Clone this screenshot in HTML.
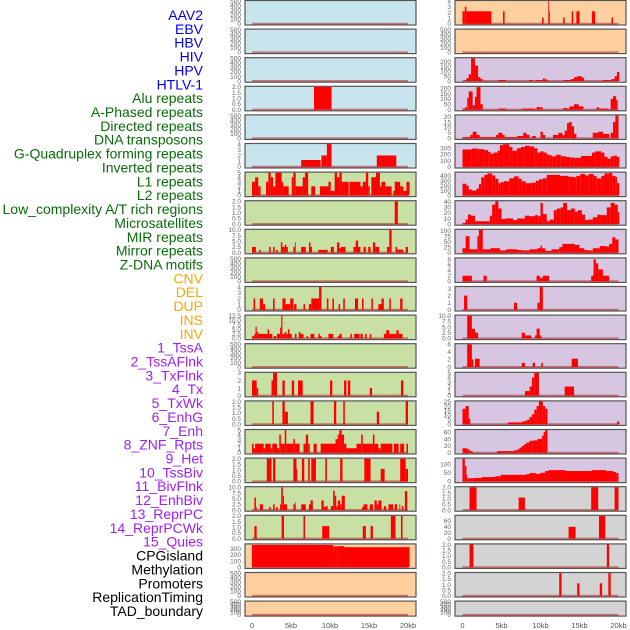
<!DOCTYPE html>
<html><head><meta charset="utf-8">
<style>
html,body{margin:0;padding:0;background:#fff;}
#wrap{position:relative;width:630px;height:630px;overflow:hidden;font-family:"Liberation Sans",sans-serif;}
svg{position:absolute;left:0;top:0;}
</style></head>
<body>
<div id="wrap">
<svg id="chart" width="630" height="630"></svg>
</div>
<script>
const trackLabels = ["AAV2","EBV","HBV","HIV","HPV","HTLV-1","Alu repeats","A-Phased repeats","Directed repeats","DNA transposons","G-Quadruplex forming repeats","Inverted repeats","L1 repeats","L2 repeats","Low_complexity A/T rich regions","Microsatellites","MIR repeats","Mirror repeats","Z-DNA motifs","CNV","DEL","DUP","INS","INV","1_TssA","2_TssAFlnk","3_TxFlnk","4_Tx","5_TxWk","6_EnhG","7_Enh","8_ZNF_Rpts","9_Het","10_TssBiv","11_BivFlnk","12_EnhBiv","13_ReprPC","14_ReprPCWk","15_Quies","CPGisland","Methylation","Promoters","ReplicationTiming","TAD_boundary"];
const labelGroups = [0,0,0,0,0,0,1,1,1,1,1,1,1,1,1,1,1,1,1,2,2,2,2,2,3,3,3,3,3,3,3,3,3,3,3,3,3,3,3,4,4,4,4,4];
const xTickLabels = ["0","5kb","10kb","15kb","20kb"];
const xTickValues = [0,5,10,15,20];
const E = [0,100,200,300,400,500];
const T2 = ["0.0","0.5","1.0","1.5","2.0"];
const leftMax = [500,500,500,2,500,4,5,2,10,500,4,12.5,500,3,2,5,2,10,2,365,500,500];
const leftTicks = [E,E,E,T2,E,[0,1,2,3,4],[0,1,2,3,4,5],T2,["0.0","2.5","5.0","7.5","10.0"],E,[0,1,2,3,4],["0.0","2.5","5.0","7.5","10.0","12.5"],E,[0,1,2,3],T2,[0,1,2,3,4,5],T2,["0.0","2.5","5.0","7.5","10.0"],T2,[0,100,200,300],E,E];
const rightMax = [4,500,237,212,21,367,465,41,104,8.3,3.2,10,6,5,25,66,131,2,77,2,2,500];
const rightTicks = [[0,1,2,3,4],E,[0,50,100,150,200],[0,50,100,150,200],[0,5,10,15,20],[0,100,200,300],[0,100,200,300,400],[0,10,20,30,40],[0,25,50,75,100],[0,2,4,6,8],[0,1,2,3],["0.0","2.5","5.0","7.5","10.0"],[0,2,4,6],[0,1,2,3,4,5],[0,5,10,15,20,25],[0,20,40,60],[0,50,100],T2,[0,20,40,60],T2,T2,E];
const leftSegs = [
[],[],[],
[[7.95,10.2,2]],
[],
[[6.3,8.8,1.2],[8.9,9.6,2],[9.6,10.2,4],[16.0,18.5,2]],
[[0,0.4,3],[0.4,0.8,4],[0.8,1.1,2],[1.8,2.1,3],[2.1,2.4,5],[2.4,2.7,4],[2.7,3.0,2],[3.0,3.8,5],[3.8,4.0,3],[4.0,4.7,2],[5.1,5.3,4],[5.3,5.6,5],[5.6,6.5,2],[6.5,6.8,4],[6.8,7.2,5],[7.6,8.1,2],[8.7,9.8,2],[9.8,10.1,3],[10.1,10.6,1],[10.6,10.9,5],[10.9,11.2,4],[11.2,11.5,5],[11.5,11.8,3],[11.8,12.4,3],[12.5,13.9,3],[13.9,14.2,2],[14.2,14.6,3],[14.6,14.9,5],[14.9,15.1,2],[15.3,15.9,4],[15.9,16.4,5],[16.4,16.6,2],[16.6,17.1,3],[17.1,17.9,2],[18.1,18.3,1],[18.3,19.0,3],[19.0,19.4,2],[19.4,19.8,1],[19.8,20.2,3]],
[[18.3,18.7,2]],
[[0,0.5,2.5],[0.9,1.1,1.2],[2.2,2.4,2.5],[2.7,2.9,2.5],[3.1,3.3,1.2],[3.7,3.9,4.5],[3.9,4.2,2.5],[4.2,4.4,3.5],[4.4,4.6,2.5],[5.3,5.5,2.5],[5.5,5.6,4.5],[6.3,6.9,2.5],[7.3,7.5,4.5],[7.5,7.7,2.5],[8.5,9.7,1.2],[10.1,10.5,2.5],[10.9,11.2,4.5],[11.2,11.4,2],[11.4,12.0,2.5],[13.0,13.3,2.5],[13.3,13.6,5.3],[13.6,13.9,2.5],[14.3,14.6,2.5],[14.9,15.2,2.5],[15.5,15.8,4.5],[15.8,16.3,2.5],[17.3,17.6,2.5],[17.6,17.9,10],[18.4,18.6,2.5],[18.6,19.4,1.3],[19.7,20.0,2.5]],
[],
[[0.2,0.4,2],[1.0,1.4,2],[1.4,1.7,1],[2.7,2.9,2],[3.9,4.3,2],[4.3,4.9,1],[4.9,5.3,2],[5.4,5.7,1],[6.6,6.8,1],[7.3,7.6,1],[7.6,8.6,2],[8.6,8.9,4],[9.6,9.8,2],[10.3,10.5,2],[11.1,11.3,1],[11.7,11.9,2],[13.2,13.6,2],[14.1,14.3,2],[15.3,15.5,2],[16.2,16.6,1],[16.6,16.9,2],[17.6,17.8,2],[19.0,19.3,2]],
[[0,0.3,1.2],[0.3,0.45,2.5],[0.45,0.6,6.5],[0.6,0.8,3.5],[0.8,2.0,2.5],[2.0,2.2,5],[2.2,2.6,2.5],[2.8,3.1,1.3],[3.2,3.6,2.5],[3.6,3.75,6],[3.75,3.9,12.5],[3.9,4.2,2.5],[4.2,4.4,3.5],[4.4,4.6,2.5],[4.6,4.8,5],[4.8,5.1,2.5],[5.5,5.7,2.5],[6.0,6.2,3.5],[6.2,6.6,2.5],[7.0,7.2,1.3],[7.5,8.0,2.5],[8.5,8.7,2.5],[8.7,8.9,1.3],[9.8,10.4,2.5],[11.0,11.2,1.3],[11.2,11.5,2.5],[12.6,12.8,2.5],[13.1,13.8,2.5],[13.9,14.2,2.5],[14.5,14.7,2.5],[15.1,15.3,2.5],[16.9,17.2,2.5],[17.2,17.6,4.5],[17.6,18.5,2.5],[18.5,18.8,4.5],[18.8,19.3,2.5]],
[],
[[0,0.6,2],[0.6,0.8,1],[2.5,2.7,2],[2.7,3.2,3],[3.9,4.2,2],[5.1,5.4,2],[5.9,6.5,2],[10.0,10.3,2],[11.8,12.1,2],[12.3,12.6,2],[15.1,15.4,1],[19.1,19.4,2]],
[[2.6,2.8,2],[3.9,4.2,2],[4.2,4.6,1.1],[7.5,7.9,2],[10.5,10.8,2],[11.7,11.9,2],[16.0,16.3,1.1],[19.7,20.0,2]],
[[0,0.2,2],[0.2,0.4,1],[0.4,1.5,2],[1.5,1.7,1],[1.7,2.4,2],[2.4,2.6,1],[2.6,3.2,2],[3.2,3.5,1],[3.5,3.7,4],[3.7,4.2,2],[4.2,4.4,5],[4.4,5.3,2],[5.3,5.5,3],[5.5,6.1,2],[6.6,6.9,2],[6.9,7.2,4],[7.2,7.4,2],[7.9,8.3,2],[8.8,10.7,2],[10.7,11.0,3],[11.0,11.2,4],[11.2,11.5,5],[11.5,11.8,4],[11.8,12.1,2],[12.1,13.4,1],[13.4,14.0,2],[14.0,14.2,4],[14.2,15.5,2],[15.5,15.7,4],[15.7,16.2,2],[16.2,16.5,1],[16.5,18.0,2],[18.2,18.8,2],[19.0,19.5,2],[19.8,20.0,2]],
[[1.9,2.5,2],[2.7,3.0,2],[5.3,5.7,2],[5.7,5.8,1.1],[6.4,6.7,2],[7.2,7.4,2],[7.6,8.2,2],[9.4,9.6,2],[11.3,11.6,2],[14.4,15.2,2],[16.5,17.0,1.1],[19.0,19.7,2],[19.7,20.0,1.1]],
[[0.3,0.5,5.5],[0.5,0.6,1.3],[1.0,1.4,2.5],[2.2,2.4,1.3],[2.7,2.9,2.5],[3.1,3.3,1.3],[3.6,3.75,2.5],[3.75,3.95,10],[3.95,4.1,6.3],[4.1,4.5,2.5],[5.3,5.5,2.5],[5.5,5.6,3.3],[6.3,6.9,2.5],[7.3,7.5,2.5],[7.5,7.8,4.2],[8.9,9.2,4.2],[9.2,9.4,1.3],[9.4,9.7,1.7],[10.1,10.4,1.7],[10.4,10.6,8.5],[10.6,10.8,6.3],[10.8,11.0,1.7],[11.0,11.3,4.2],[11.3,11.5,2.5],[11.5,11.9,6.3],[14.1,14.3,1.3],[14.3,14.8,2.5],[15.1,15.5,2.5],[15.7,16.0,4.2],[16.0,16.2,2.5],[16.2,16.6,4.2],[16.9,17.2,1.7],[17.5,18.1,2.5],[18.3,18.6,2.5],[18.9,19.0,2.5],[19.2,19.4,1.7],[19.6,19.9,8.3]],
[[0.3,0.6,1.1],[3.8,4.1,2],[6.6,6.8,2],[9.0,9.9,1.1],[14.2,14.6,1.1],[15.2,15.5,1.1],[17.8,18.4,2],[19.1,19.3,2]],
[[0,10.4,358],[10.4,11.0,335],[11.0,11.8,338],[11.8,20.2,322]],
[],[]
];
const rightSegs = [
[[0,0.3,2.2],[0.3,0.5,3],[0.5,3.7,2.2],[5.2,5.4,2.2],[10.2,10.4,1.1],[11.0,11.1,4],[11.1,11.2,2.2],[12.9,13.1,1.1],[14.0,14.2,2.2],[14.6,15.0,2.2],[16.6,17.0,2.2],[19.1,19.3,1.1]],
[],
[[0.3,0.5,10],[0.5,0.8,30],[0.8,1.1,70],[1.1,1.6,237],[1.6,2.0,160],[2.0,2.3,40],[2.3,2.6,20],[4.6,5.6,10],[8.5,9.0,10],[9.4,10.3,10],[10.3,10.6,25],[10.6,10.9,15],[12.9,13.9,10],[13.9,14.3,20],[14.3,14.7,40],[14.7,15.3,50],[15.3,15.6,35],[18.0,19.0,10],[19.1,19.5,20],[19.5,19.8,50],[19.8,20.1,95]],
[[0,0.3,10],[0.3,0.6,20],[0.6,0.8,110],[0.8,1.3,170],[1.3,1.6,40],[1.6,1.8,120],[1.8,2.3,210],[2.3,2.6,50],[4.6,5.6,10],[7.6,9.3,10],[9.5,9.9,25],[9.9,10.3,20],[12.9,13.4,15],[13.4,13.7,10],[13.7,14.3,30],[14.3,14.9,50],[14.9,15.5,30],[17.2,17.5,20],[17.5,18.7,10],[19.0,19.3,100],[19.3,19.7,125],[19.7,19.9,90]],
[[0,1.0,1],[1.0,1.3,3],[1.3,1.8,6],[1.8,2.2,3],[2.2,4.3,1],[4.3,4.6,3],[4.6,5.1,5],[5.1,5.4,3],[5.4,7.0,1],[7.0,7.8,2],[7.8,8.2,5],[8.2,8.6,3],[8.9,9.4,2],[10.0,10.3,6],[10.3,10.6,3],[11.6,12.3,3],[12.3,12.8,5],[12.8,13.1,3],[13.1,13.4,7],[13.4,13.7,14],[13.7,14.0,15],[14.0,14.3,11],[14.3,14.6,4],[16.7,17.4,5],[17.4,18.0,6],[18.0,18.8,4],[19.0,19.3,5],[19.3,19.6,15],[19.6,20.0,21]],
[[0,1.2,280],[1.2,2.0,295],[2.0,2.8,285],[2.8,3.3,270],[3.3,3.6,240],[3.6,4.0,210],[4.0,4.5,230],[4.5,4.8,260],[4.8,5.2,350],[5.2,6.0,365],[6.0,6.4,320],[6.4,7.0,260],[7.0,7.5,300],[7.5,8.0,320],[8.0,8.6,340],[8.6,9.2,330],[9.2,9.6,300],[9.6,10.0,230],[10.0,10.4,250],[10.4,10.8,230],[10.8,11.1,200],[11.1,11.5,185],[11.5,12.0,170],[12.0,12.6,195],[12.6,13.2,170],[13.2,13.8,160],[13.8,14.4,150],[14.4,15.2,145],[15.2,16.6,175],[16.6,17.0,230],[17.0,17.8,250],[17.8,18.2,230],[18.2,18.6,160],[18.6,19.0,130],[19.0,19.4,170],[19.4,19.8,180],[19.8,20.1,160]],
[[0,0.5,240],[0.5,0.8,200],[0.8,1.2,120],[1.2,1.8,100],[1.8,2.1,140],[2.1,2.4,230],[2.4,2.8,370],[2.8,3.2,420],[3.2,3.8,450],[3.8,4.2,410],[4.2,4.6,340],[4.6,4.9,250],[4.9,5.3,270],[5.3,6.0,290],[6.0,6.6,350],[6.6,7.2,390],[7.2,7.6,340],[7.6,8.1,290],[8.1,8.8,250],[8.8,9.4,260],[9.4,9.8,300],[9.8,10.3,330],[10.3,10.8,350],[10.8,12.5,420],[12.5,13.6,400],[13.6,14.3,380],[14.3,14.6,370],[14.6,15.1,400],[15.1,15.7,440],[15.7,16.2,410],[16.2,16.8,440],[16.8,17.2,400],[17.2,17.8,350],[17.8,18.2,400],[18.2,18.8,450],[18.8,19.2,460],[19.2,19.6,400],[19.6,19.8,380],[19.8,20.1,250]],
[[0,0.4,2],[0.4,0.7,8],[0.7,1.1,17],[1.1,1.6,15],[1.6,3.5,5],[3.5,3.8,15],[3.8,4.2,35],[4.2,4.6,41],[4.6,5.0,28],[5.0,5.5,9],[5.5,6.5,10],[6.5,7.0,7],[7.0,8.0,10],[8.0,8.6,15],[8.6,9.3,14],[9.3,9.7,16],[9.7,10.0,14],[10.0,10.3,38],[10.3,10.8,18],[10.8,11.2,5],[11.2,11.7,8],[11.7,12.1,25],[12.1,12.6,28],[12.6,12.9,30],[12.9,13.4,38],[13.4,13.9,25],[13.9,14.4,28],[14.4,14.8,22],[14.8,15.3,25],[15.3,15.7,17],[15.7,16.1,7],[16.1,16.7,8],[16.7,17.3,12],[17.3,17.7,17],[17.7,18.5,16],[18.5,19.0,30],[19.0,19.5,38],[19.5,19.9,35],[19.9,20.1,22]],
[[0,0.4,20],[0.4,0.9,75],[0.9,1.9,15],[1.9,2.1,75],[2.1,2.6,104],[2.6,3.6,15],[3.6,4.8,20],[4.8,5.6,10],[5.6,7.0,15],[7.0,7.6,12],[7.6,8.6,10],[8.6,9.6,15],[9.6,10.0,20],[10.0,10.2,32],[10.2,10.6,20],[10.6,11.4,8],[11.4,12.4,15],[12.4,12.8,25],[12.8,14.4,40],[14.4,15.0,35],[15.0,15.6,20],[15.6,16.0,12],[16.0,16.7,10],[16.7,17.6,20],[17.6,18.4,30],[18.4,18.8,28],[18.8,19.2,40],[19.2,19.6,70],[19.6,20.0,60]],
[[0,1.2,2],[2.7,3.1,2],[9.5,9.9,2],[9.9,10.3,1.3],[10.3,11.1,2],[16.5,16.8,2],[16.8,17.1,8],[17.1,17.4,6.5],[17.4,18.0,4.3],[18.0,18.8,2]],
[[0.2,0.6,2],[6.6,7.0,1],[9.6,9.9,1],[9.9,10.3,3.2]],
[[0.6,1.2,10],[1.2,1.6,4.2],[1.6,2.0,2.5],[7.6,8.0,2.5],[8.0,8.8,1.3],[9.3,9.5,1.3],[9.5,9.9,4.3],[9.9,10.1,1.3]],
[[0.6,1.2,6],[1.2,1.4,2],[1.6,2.2,2.2],[7.6,8.0,1.1],[9.0,9.3,1.1],[10.1,10.3,1.1],[14.0,14.8,2.2]],
[[8.0,8.6,1],[8.6,8.9,2],[8.9,9.2,4],[9.2,9.8,5],[13.1,14.3,2]],
[[0,0.4,17],[0.4,0.8,20],[0.8,1.0,6],[5.8,7.6,2],[7.6,8.0,3],[8.0,8.3,4],[8.3,8.6,5],[8.6,8.9,8],[8.9,9.2,11],[9.2,9.5,16],[9.5,9.8,20],[9.8,10.3,25],[10.3,10.6,20],[10.6,10.9,17],[19.8,20.1,3]],
[[0,0.6,13],[0.6,0.9,10],[0.9,1.3,5],[4.4,6.6,5],[6.6,7.0,7],[7.0,7.3,10],[7.3,7.6,15],[7.6,7.9,20],[7.9,8.2,25],[8.2,8.6,30],[8.6,9.0,35],[9.0,9.6,36],[9.6,10.2,40],[10.2,10.4,50],[10.4,10.6,60],[10.6,10.9,66]],
[[0,0.3,131],[0.3,0.5,90],[0.5,0.6,40],[0.6,1.5,18],[1.5,2.5,20],[2.5,4.2,25],[4.2,4.9,30],[4.9,8.2,38],[8.2,8.6,42],[8.6,9.4,48],[9.4,10.0,44],[10.0,10.6,50],[10.6,11.0,60],[11.0,13.2,65],[13.2,16.6,60],[16.6,18.4,65],[18.4,19.3,60],[19.3,19.7,55],[19.7,20.0,48]],
[[0.9,1.8,2],[7.2,8.0,1.1],[16.5,17.4,2],[19.5,20.0,2]],
[[13.6,14.5,40],[17.5,18.3,77]],
[[0.9,1.4,2],[18.5,18.8,2]],
[[12.4,12.7,2],[14.7,15.0,1.1],[17.6,17.9,1.1],[18.7,19.0,2]],
[]
];
const leftBg = [0,0,0,0,0,0,1,1,1,1,1,1,1,1,1,1,1,1,1,2,2,2];
const rightBg = [2,2,3,3,3,3,3,3,3,3,3,3,3,3,3,3,3,4,4,4,4,4];
const bgColors = ["#c8e4ec","#c8e0a3","#fecf9f","#d6c6e2","#d3d3d3"];
const labelColors = ["#0000ee","#0a6b0a","#ffa500","#a020f0","#000000"];

const NS = "http://www.w3.org/2000/svg";
const svg = document.getElementById("chart");
function mk(tag, attrs, parent){ const e=document.createElementNS(NS,tag); for(const k in attrs) e.setAttribute(k,attrs[k]); (parent||svg).appendChild(e); return e; }

// labels
trackLabels.forEach((t,i)=>{
  const el = mk("text",{x:203,y:20+i*13.86,"text-anchor":"end","font-size":"14",fill:labelColors[labelGroups[i]]});
  el.textContent=t;
  
  
});

const rowPitch = 28.6;
function drawPanel(col, r, segs, ymax, ticks, bg){
  const px = col===0?245:455, pw=171;
  const top = r*rowPitch + 0.5;
  const ph = r===21 ? 15 : 24.5;
  const x0 = col===0?252:462.5, kbScale = 7.8;
  const xs = kb => x0 + kb*kbScale;
  const yBase = top + ph - 1.2, yTop = top + 0.6;
  const ys = v => yBase - (v/ymax)*(yBase-yTop);
  const g = mk("g",{});
  
  
  const bgr = mk("rect",{x:px,y:top,width:pw,height:ph,fill:bg,stroke:"#555","stroke-width":1.2},g);
  
  
  const bl = mk("line",{x1:xs(0),x2:xs(20),y1:yBase,y2:yBase,stroke:"rgba(170,40,40,0.55)","stroke-width":2},g);
  
  
  segs.forEach(s=>{
    const y=ys(s[2]);
    const b = mk("rect",{x:xs(s[0]),y:y,width:Math.max(0.8,xs(s[1])-xs(s[0])),height:Math.max(0,yBase-y),fill:"#ff0000"},g);
    
    
  });
  const n = ticks.length;
  ticks.forEach((t,i)=>{
    const v = parseFloat(t);
    const yy = (ticks===E) ? (yBase - (i/(n-1))*(yBase-yTop)) : ys(v);
    const tx = mk("text",{x:px-4,y:yy+2.3,"text-anchor":"end","font-size":"6.5",fill:"#666"},g);
    tx.textContent = String(t);
    
    
  });
}
for(let r=0;r<22;r++){
  drawPanel(0,r,leftSegs[r],leftMax[r],leftTicks[r],bgColors[leftBg[r]]);
  drawPanel(1,r,rightSegs[r],rightMax[r],rightTicks[r],bgColors[rightBg[r]]);
}
[252,462.5].forEach(x0=>{
  xTickValues.forEach((v,i)=>{
    const t = mk("text",{x:x0+v*7.8,y:628,"text-anchor":"middle","font-size":"7.5",fill:"#555"});
    t.textContent = xTickLabels[i];
    
    
  });
});
</script>
</body></html>
